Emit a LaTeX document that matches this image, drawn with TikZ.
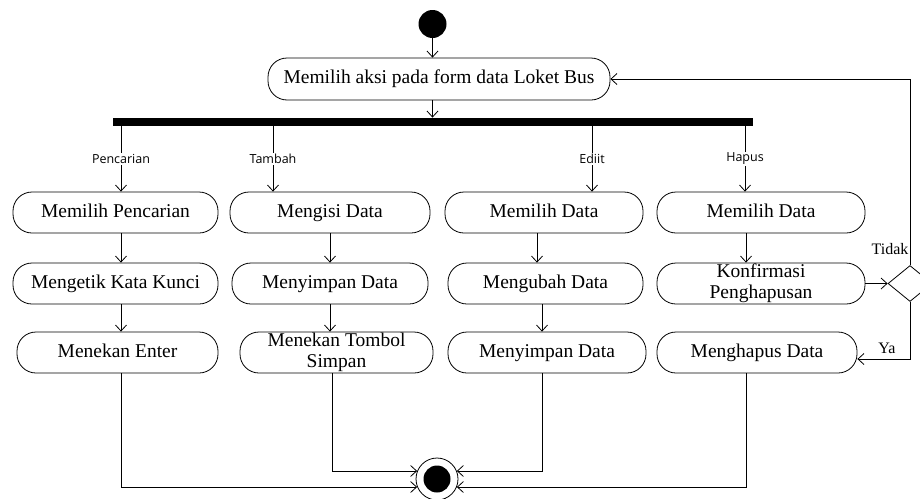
\documentclass[tikz,border=0pt]{standalone}
\usepackage{fontspec}
\setmainfont{Liberation Serif}
\newfontfamily\lblfont{Open Sans}
\usetikzlibrary{arrows.meta,shapes.geometric}

\begin{document}
\begin{tikzpicture}[x=1pt,y=-1pt,line width=0.8pt,
        >={Straight Barb[length=6pt,width=11pt]},
        act/.style={rectangle, draw, rounded corners=19pt, inner sep=0pt,
                        minimum width=200pt, minimum height=41pt, align=center,
                        text height=13.5pt, text depth=4.5pt,
                        font=\fontsize{19.5}{21}\selectfont},
        two/.style={text height={}, text depth={}},
        bar/.style={rectangle, fill=black, inner sep=0pt,
                        minimum width=640pt, minimum height=8pt},
        lbl/.style={fill=white, inner sep=1pt,
                        font=\lblfont\fontsize{12.5}{14}\selectfont},
        yn/.style={inner sep=0pt, font=\fontsize{16}{18}\selectfont},
        dot/.style={circle, fill=black, inner sep=0pt, minimum size=#1}]
    \useasboundingbox (0,0) rectangle (920,498);

    \node[dot=28pt] (ini) at (432.5,24) {};
    \node[act, minimum width=342pt, minimum height=42pt] (top) at (439,79)
        {Memilih aksi pada form data Loket Bus};
    \node[bar] (fork) at (433,122) {};
    \foreach \x/\n in {121/1, 273/2, 592/3, 745/4}
        \coordinate (f\n) at (\x,122);

    \node[act, minimum width=205pt] (s1) at (115.5,212.5) {Memilih Pencarian};
    \node[act, minimum width=205pt] (s2) at (115.5,283.5) {Mengetik Kata Kunci};
    \node[act, minimum width=201pt] (s3) at (117.5,352.5) {Menekan Enter};
    \node[act] (t1) at (330,212.5) {Mengisi Data};
    \node[act, minimum width=196pt] (t2) at (330,283.5) {Menyimpan Data};
    \node[act, two, minimum width=193pt] (t3) at (336.5,352.5) {Menekan Tombol\\Simpan};
    \node[act, minimum width=198pt] (e1) at (544,212.5) {Memilih Data};
    \node[act, minimum width=195pt] (e2) at (545.5,283.5) {Mengubah Data};
    \node[act, minimum width=198pt] (e3) at (547,352.5) {Menyimpan Data};
    \node[act, minimum width=208pt] (h1) at (761,212.5) {Memilih Data};
    \node[act, two, minimum width=208pt] (h2) at (761,283.5) {Konfirmasi\\Penghapusan};
    \node[act] (h3) at (757,352.5) {Menghapus Data};
    \node[diamond, draw, inner sep=0pt, minimum width=44pt,
        minimum height=36pt] (dia) at (910,283.5) {};
    \node[yn] (no) at (890,249) {Tidak};
    \node[yn] (yes) at (887,348) {Ya};

    \node[circle, draw, fill=white, inner sep=0pt, minimum size=42pt] (fin)
        at (437,479) {};
    \node[dot=27pt] (fini) at (fin.center) {};

    \draw[->] (ini.south) -- (ini.south |- top.north);
    \draw[->] (ini.south |- top.south) -- (ini.south |- fork.north);
    \draw[->] (f1 |- fork.south) -- (f1 |- s1.north) node[lbl, midway]{Pencarian};
    \draw[->] (f2 |- fork.south) -- (f2 |- t1.north) node[lbl, midway]{Tambah};
    \draw[->] (f3 |- fork.south) -- (f3 |- e1.north) node[lbl, midway]{Ediit};
    \draw[->] (f4 |- fork.south) -- (f4 |- h1.north) node[lbl, midway]{Hapus};

    \draw[->] ([xshift=5.5pt]s1.south) -- ([xshift=5.5pt]s2.north);
    \draw[->] ([xshift=5.5pt]s2.south) -- ([xshift=3.5pt]s3.north);
    \draw[->] (t1.south) -- (t2.north);
    \draw[->] (t2.south) -- ([xshift=-6.5pt]t3.north);
    \draw[->] ([xshift=-7pt]e1.south) -- ([xshift=-8.5pt]e2.north);
    \draw[->] ([xshift=-3.5pt]e2.south) -- ([xshift=-5pt]e3.north);
    \draw[->] ([xshift=-15pt]h1.south) -- ([xshift=-15pt]h2.north);

    \draw[->] (h2.east) -- (dia.west);
    \draw[->] (dia.north) |- (top.east);
    \draw[->] (dia.south) |- ([yshift=-6.5pt]h3.east);

    \draw[->] ([xshift=3.5pt]s3.south) |- (fin.202);
    \draw[->] ([xshift=-4.5pt]t3.south) |- (fin.158);
    \draw[->] ([xshift=-5pt]e3.south) |- (fin.22);
    \draw[->] ([xshift=-11pt]h3.south) |- (fin.338);
\end{tikzpicture}
\end{document}
